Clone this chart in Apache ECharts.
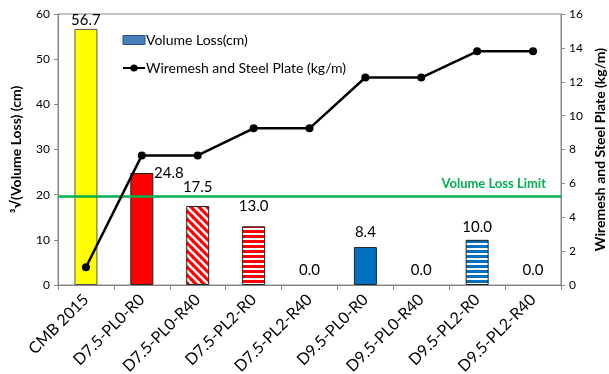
<!DOCTYPE html>
<html>
<head>
<meta charset="utf-8">
<script src="https://cdn.jsdelivr.net/npm/echarts@6/dist/echarts.min.js"></script>
<style>
  html, body { margin: 0; padding: 0; background: #fff; }
  #chart { width: 609px; height: 374px; }
</style>
</head>
<body>
<div id="chart"></div>
<script>
// Specimen names along the category axis
const categories = ['CMB 2015', 'D7.5-PL0-R0', 'D7.5-PL0-R40', 'D7.5-PL2-R0', 'D7.5-PL2-R40',
                    'D9.5-PL0-R0', 'D9.5-PL0-R40', 'D9.5-PL2-R0', 'D9.5-PL2-R40'];
// Cube root of volume loss (cm), left axis
const volumeLoss = [56.7, 24.8, 17.5, 13.0, 0.0, 8.4, 0.0, 10.0, 0.0];
// Wiremesh and steel plate mass (kg/m), right axis
const steelMass = [1.05, 7.65, 7.65, 9.25, 9.25, 12.25, 12.25, 13.8, 13.8];
// Volume loss limit
const volumeLossLimit = 19.6;
// Axis tick settings
const leftAxisMax = 60, leftAxisStep = 10;
const rightAxisMax = 16, rightAxisStep = 2;

const FONT = 'Lato, "Open Sans", sans-serif';

// Stripe fills for the hatched bars
function diagonalStripes(color) {
  const c = document.createElement('canvas');
  const s = 8;
  c.width = s; c.height = s;
  const g = c.getContext('2d');
  g.fillStyle = '#fff';
  g.fillRect(0, 0, s, s);
  g.strokeStyle = color;
  g.lineWidth = 3.2;
  for (let k = -1; k <= 1; k++) {
    g.beginPath();
    g.moveTo(k * s - 1, -1);
    g.lineTo(k * s + s + 1, s + 1);
    g.stroke();
  }
  return { image: c, repeat: 'repeat' };
}
function horizontalStripes(color) {
  const c = document.createElement('canvas');
  c.width = 4; c.height = 5;
  const g = c.getContext('2d');
  g.fillStyle = '#fff';
  g.fillRect(0, 0, 4, 5);
  g.fillStyle = color;
  g.fillRect(0, 0, 4, 3);
  return { image: c, repeat: 'repeat' };
}

const fills = [
  '#FFFF00', '#FF0000', diagonalStripes('#FF0000'), horizontalStripes('#FF0000'),
  '#FF0000', '#0070C0', '#0070C0', horizontalStripes('#0070C0'), '#0070C0'
];
const labelOffsets = [[0, 4], [27, 13], [0, -6], [0, -8], [0, -2], [0, -2], [0, -2], [0, 0], [0, -2]];
const borderColors = ['#555', '#222', '#222', '#222', '#222', '#222', '#222', '#222', '#222'];

const barData = volumeLoss.map((v, i) => ({
  value: v,
  itemStyle: { color: fills[i], borderColor: borderColors[i], borderWidth: v > 0 ? 1 : 0 },
  label: { offset: labelOffsets[i] }
}));

const chart = echarts.init(document.getElementById('chart'));
chart.setOption({
  animation: false,
  textStyle: { fontFamily: FONT },
  grid: {
    left: 58, right: 48, top: 14, bottom: 89,
    outerBoundsMode: 'none',
    containLabel: false,
    show: true, borderColor: '#868686', borderWidth: 1, backgroundColor: 'transparent'
  },
  legend: {
    orient: 'vertical',
    left: 117, top: 28,
    itemGap: 14,
    itemWidth: 22, itemHeight: 9,
    textStyle: { fontFamily: FONT, fontSize: 14, color: '#000', padding: [0, 0, 0, -4] },
    data: [
      { name: 'Volume Loss(cm)', icon: 'rect', itemStyle: { color: '#4A7EBB', borderColor: '#2F528F', borderWidth: 1 } },
      { name: 'Wiremesh and Steel Plate (kg/m)' }
    ]
  },
  xAxis: {
    type: 'category',
    data: categories,
    axisLine: { lineStyle: { color: '#868686', width: 1 } },
    axisTick: { show: true, alignWithLabel: false, length: 5, lineStyle: { color: '#868686' } },
    axisLabel: { rotate: 45, fontSize: 16, color: '#000', margin: 12, interval: 0, fontFamily: FONT },
    splitLine: { show: false }
  },
  yAxis: [
    {
      type: 'value', min: 0, max: leftAxisMax, interval: leftAxisStep,
      name: '\u00B3\u221A(Volume Loss) (cm)',
      nameLocation: 'middle', nameGap: 35, nameRotate: 90,
      nameTextStyle: { fontSize: 14, fontWeight: 'bold', color: '#000', fontFamily: FONT },
      axisLine: { show: true, lineStyle: { color: '#868686' } },
      axisTick: { show: true, length: 4, lineStyle: { color: '#868686' } },
      axisLabel: { fontSize: 12, color: '#000', margin: 8, fontFamily: FONT },
      splitLine: { show: false }
    },
    {
      type: 'value', min: 0, max: rightAxisMax, interval: rightAxisStep,
      name: 'Wiremesh and Steel Plate (kg/m)',
      nameLocation: 'middle', nameGap: 31, nameRotate: 90,
      nameTextStyle: { fontSize: 14, fontWeight: 'bold', color: '#000', fontFamily: FONT },
      axisLine: { show: true, lineStyle: { color: '#868686' } },
      axisTick: { show: true, length: 4, lineStyle: { color: '#868686' } },
      axisLabel: { fontSize: 12, color: '#000', margin: 8, fontFamily: FONT },
      splitLine: { show: false }
    }
  ],
  series: [
    {
      name: 'Volume Loss(cm)',
      type: 'bar',
      yAxisIndex: 0,
      barWidth: 23,
      data: barData,
      itemStyle: { color: '#4A7EBB' },
      label: {
        show: true, position: 'top', distance: 5,
        formatter: p => p.value.toFixed(1),
        fontSize: 15, color: '#000', fontFamily: FONT
      },
      markLine: {
        silent: true,
        symbol: 'none',
        lineStyle: { color: '#00B050', width: 2.5, type: 'solid' },
        label: {
          show: true, position: 'insideEndTop', formatter: 'Volume Loss Limit',
          color: '#00B050', fontWeight: 'bold', fontSize: 13, fontFamily: FONT,
          distance: [15, 6]
        },
        data: [{ yAxis: volumeLossLimit }]
      },
      z: 2
    },
    {
      name: 'Wiremesh and Steel Plate (kg/m)',
      type: 'line',
      yAxisIndex: 1,
      data: steelMass,
      symbol: 'circle',
      symbolSize: 8,
      lineStyle: { color: '#000', width: 2.5 },
      itemStyle: { color: '#000' },
      z: 5
    }
  ]
});
</script>
</body>
</html>
